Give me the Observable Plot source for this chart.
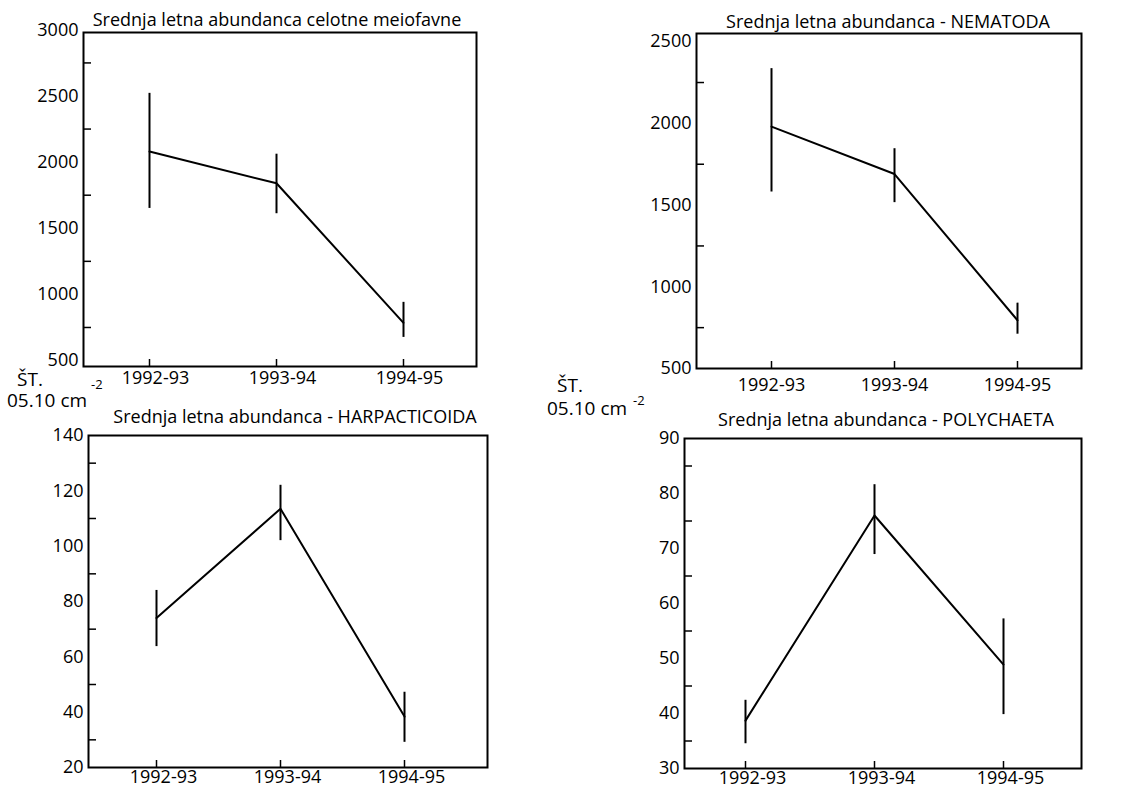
<!DOCTYPE html>
<html><head><meta charset="utf-8">
<script src="https://cdn.jsdelivr.net/npm/d3@7"></script>
<script src="https://cdn.jsdelivr.net/npm/@observablehq/plot@0.6"></script>
<style>
body{margin:0;background:#fff;}
#wrap{position:relative;width:1123px;height:790px;overflow:hidden;font-family:'Open Sans',sans-serif;color:#000;background:#fff;}
#wrap svg{position:absolute;left:0;top:0;}
.t{position:absolute;font-size:18px;line-height:18px;white-space:nowrap;color:#000;}
.c{transform:translateX(-50%);}
</style></head><body><div id="wrap"></div>
<script>
// ---- data ----
const years = ["1992-93", "1993-94", "1994-95"];

const totalMean = [2080, 1840, 785];
const totalLo   = [1650, 1610, 675];
const totalHi   = [2520, 2060, 940];
const totalMajor = [500, 1000, 1500, 2000, 2500, 3000];
const totalMinor = [750, 1250, 1750, 2250, 2750];

const nemMean = [1980, 1690, 795];
const nemLo   = [1580, 1515, 710];
const nemHi   = [2335, 1845, 900];
const nemMajor = [500, 1000, 1500, 2000, 2500];
const nemMinor = [750, 1250, 1750, 2250];

const harpMean = [74, 113.5, 38.4];
const harpLo   = [63.7, 102, 29.1];
const harpHi   = [84, 122, 47.2];
const harpMajor = [20, 40, 60, 80, 100, 120, 140];
const harpMinor = [30, 50, 70, 90, 110, 130];

const polyMean = [38.7, 76, 48.9];
const polyLo   = [34.5, 68.9, 39.8];
const polyHi   = [42.4, 81.6, 57.2];
const polyMajor = [30, 40, 50, 60, 70, 80, 90];
const polyMinor = [35, 45, 55, 65, 75, 85];

const titles = [
  "Srednja letna abundanca celotne meiofavne",
  "Srednja letna abundanca - NEMATODA",
  "Srednja letna abundanca - HARPACTICOIDA",
  "Srednja letna abundanca - POLYCHAETA"
];
const unitTop = "ŠT.";
const unitBase = "05.10 cm";
const unitSup = "-2";

// ---- drawing ----
const W = 1123, H = 790;
const wrap = document.getElementById("wrap");

function panel({mean, lo, hi, yDomain, majors, minors, frame, xRange, labelDx, labelPad}) {
  const data = years.map((y, i) => ({year: y, mean: mean[i], lo: lo[i], hi: hi[i]}));
  const [L, R, T, B] = frame;
  const svg = Plot.plot({
    width: W, height: H,
    marginLeft: L, marginRight: W - R, marginTop: T, marginBottom: H - B,
    style: {fontFamily: "'Open Sans', sans-serif", fontSize: "18px", background: "transparent", color: "black", overflow: "visible"},
    x: {type: "point", domain: years, range: xRange, padding: 0, label: null},
    y: {domain: yDomain, label: null},
    marks: [
      Plot.frame({stroke: "black", strokeWidth: 2}),
      Plot.axisY({ticks: majors, tickSize: 0, tickPadding: 5, tickFormat: d3.format("d"), fontSize: 18, label: null, fill: "black"}),
      Plot.axisY({ticks: minors, tickSize: 8, dx: 8, tickFormat: () => "", label: null, stroke: "black", strokeWidth: 1.5}),
      Plot.axisX({ticks: years, tickSize: 7, dy: -7, tickFormat: () => "", label: null, stroke: "black", strokeWidth: 1.5}),
      Plot.axisX({ticks: years, tickSize: 0, tickPadding: labelPad, dx: labelDx, fontSize: 18, label: null, fill: "black"}),
      Plot.ruleX(data, {x: "year", y1: "lo", y2: "hi", stroke: "black", strokeWidth: 2}),
      Plot.line(data, {x: "year", y: "mean", stroke: "black", strokeWidth: 2})
    ]
  });
  wrap.appendChild(svg);
}

panel({mean: totalMean, lo: totalLo, hi: totalHi, yDomain: [455, 2980], majors: totalMajor, minors: totalMinor,
       frame: [83, 476, 32, 366], xRange: [148, 403], labelDx: 6, labelPad: 5});
panel({mean: nemMean, lo: nemLo, hi: nemHi, yDomain: [500, 2550], majors: nemMajor, minors: nemMinor,
       frame: [696, 1081, 33, 368], xRange: [770, 1017], labelDx: 0, labelPad: 10});
panel({mean: harpMean, lo: harpLo, hi: harpHi, yDomain: [20, 140], majors: harpMajor, minors: harpMinor,
       frame: [88, 487, 435, 767], xRange: [155, 404], labelDx: 7, labelPad: 3});
panel({mean: polyMean, lo: polyLo, hi: polyHi, yDomain: [30, 90], majors: polyMajor, minors: polyMinor,
       frame: [684, 1081, 438, 768], xRange: [745, 1003], labelDx: 7, labelPad: 3});

function label(text, x, top, cls = "", size = 18) {
  const d = document.createElement("div");
  d.className = "t " + cls;
  d.style.left = x + "px";
  d.style.top = top + "px";
  d.style.fontSize = size + "px";
  d.style.lineHeight = size + "px";
  d.textContent = text;
  wrap.appendChild(d);
}
// titles (centered)
label(titles[0], 277, 10, "c");
label(titles[1], 888, 12, "c");
label(titles[2], 295, 407, "c");
label(titles[3], 886, 410, "c");
// unit labels, left
label(unitTop, 17, 370, "", 19);
label(unitSup, 91, 378, "", 13);
label(unitBase, 7, 391, "", 19);
// unit labels, right
label(unitTop, 557, 376, "", 19);
label(unitBase, 547, 399, "", 19);
label(unitSup, 633, 394, "", 13);
</script></body></html>
